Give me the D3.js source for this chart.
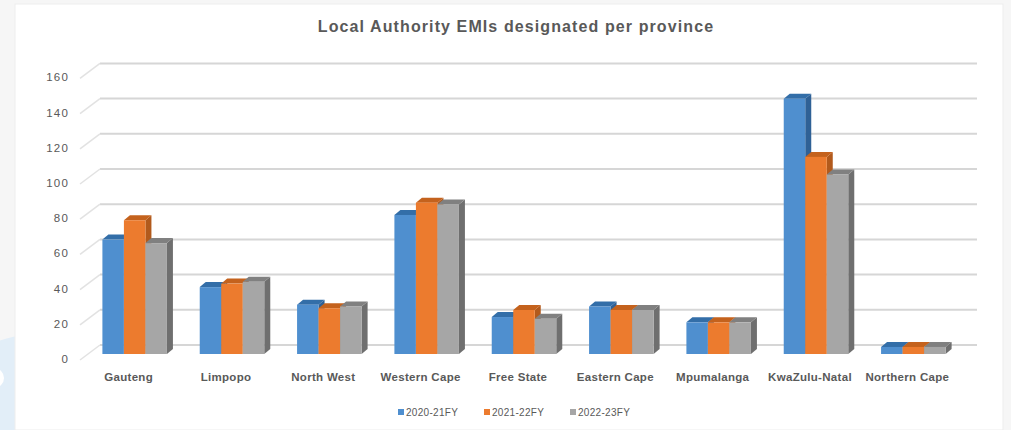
<!DOCTYPE html>
<html>
<head>
<meta charset="utf-8">
<script src="https://cdn.jsdelivr.net/npm/d3@7"></script>
<style>
  html, body { margin: 0; padding: 0; background: #f6f6f6; }
  svg { display: block; }
  text { font-family: "Liberation Sans", Arial, sans-serif; fill: #595959; }
</style>
</head>
<body>
<svg id="chart" width="1011" height="430"></svg>
<script>
// Provinces along the category axis
const categories = ["Gauteng", "Limpopo", "North West", "Western Cape", "Free State",
                    "Eastern Cape", "Mpumalanga", "KwaZulu-Natal", "Northern Cape"];
// Local Authority EMIs designated, per financial year
const fy2020_21 = [65, 38, 28, 79, 21, 27, 18, 145, 4];
const fy2021_22 = [76, 40, 26, 86, 25, 25, 18, 112, 4];
const fy2022_23 = [63, 41, 27, 85, 20, 25, 18, 102, 4];
const seriesNames = ["2020-21FY", "2021-22FY", "2022-23FY"];
const yTicks = [0, 20, 40, 60, 80, 100, 120, 140, 160];

const series = [fy2020_21, fy2021_22, fy2022_23];
const palette = [
  { front: "#4f8fcf", side: "#2f6196", top: "#336ea8" },
  { front: "#ec7b2e", side: "#b25a1c", top: "#c4621d" },
  { front: "#a6a6a6", side: "#6f6f6f", top: "#808080" }
];

const svg = d3.select("#chart");

// soft decorative shapes behind the chart panel
svg.append("circle").attr("cx", 30).attr("cy", 420).attr("r", 85).attr("fill", "#e2eef8");
svg.append("circle").attr("cx", -6).attr("cy", 378).attr("r", 10).attr("fill", "#ffffff");

// chart panel
svg.append("rect")
  .attr("x", 15).attr("y", 4).attr("width", 988).attr("height", 426)
  .attr("fill", "#ffffff").attr("stroke", "#ededed");

// 3D geometry: back wall plane, bar front plane offset toward the viewer
const wallLeft = 100, wallRight = 977;
const floorDx = -20, floorDy = 15;     // back wall -> front edge of floor
const barOffY = 9;                     // back wall -> bar front plane (vertical shift)
const depthX = 6, depthY = -5;         // bar depth

const y = d3.scaleLinear().domain([0, 160]).range([345, 63.4]);

// gridlines on the back wall plus their diagonals along the side wall
const grid = svg.append("g");
yTicks.forEach(t => {
  const yy = y(t);
  grid.append("line")
    .attr("x1", wallLeft).attr("x2", wallRight)
    .attr("y1", yy).attr("y2", yy)
    .attr("stroke", "#d6d6d6").attr("stroke-width", 2);
  grid.append("line")
    .attr("x1", wallLeft).attr("y1", yy)
    .attr("x2", wallLeft + floorDx).attr("y2", yy + floorDy)
    .attr("stroke", "#e2e2e2").attr("stroke-width", 1.5);
  grid.append("text")
    .attr("x", 69).attr("y", yy + 14).attr("dy", "0.35em")
    .attr("text-anchor", "end")
    .style("font-size", "11.5px")
    .style("letter-spacing", "1.2px")
    .text(t);
});

// category band along the bar front plane
const x0 = d3.scaleBand()
  .domain(categories)
  .range([86, 962])
  .paddingInner(0.337).paddingOuter(0.1685);
const x1 = d3.scaleBand().domain(d3.range(series.length)).range([0, x0.bandwidth()]);

const yFront = v => y(v) + barOffY;

const bars = svg.append("g");
categories.forEach((cat, ci) => {
  series.forEach((vals, si) => {
    const v = vals[ci];
    const xl = x0(cat) + x1(si);
    const w = x1.bandwidth();
    const yt = yFront(v);
    const yb = yFront(0);
    const c = palette[si];
    // right side face
    bars.append("path")
      .attr("d", `M${xl + w},${yt} L${xl + w + depthX},${yt + depthY} L${xl + w + depthX},${yb + depthY} L${xl + w},${yb} Z`)
      .attr("fill", c.side);
    // top face
    bars.append("path")
      .attr("d", `M${xl},${yt} L${xl + depthX},${yt + depthY} L${xl + w + depthX},${yt + depthY} L${xl + w},${yt} Z`)
      .attr("fill", c.top);
    // front face
    bars.append("rect")
      .attr("x", xl).attr("y", yt)
      .attr("width", w).attr("height", yb - yt)
      .attr("fill", c.front);
  });
});

// category labels at the front edge of the floor
svg.append("g").selectAll("text")
  .data(categories).join("text")
  .attr("x", d => x0(d) + x0.bandwidth() / 2 - 6)
  .attr("y", 377).attr("dy", "0.35em")
  .attr("text-anchor", "middle")
  .style("font-size", "11.5px").style("font-weight", "bold")
  .style("letter-spacing", "0.3px")
  .text(d => d);

// title
svg.append("text")
  .attr("x", 516).attr("y", 32)
  .attr("text-anchor", "middle")
  .style("font-size", "16px").style("font-weight", "bold")
  .style("letter-spacing", "1.1px")
  .text("Local Authority EMIs designated per province");

// legend
const legend = svg.append("g");
const legendX = d3.scalePoint().domain(seriesNames).range([398, 570]);
seriesNames.forEach((name, i) => {
  const lx = legendX(name);
  legend.append("rect")
    .attr("x", lx).attr("y", 409).attr("width", 6).attr("height", 6)
    .attr("fill", palette[i].front);
  legend.append("text")
    .attr("x", lx + 8).attr("y", 412).attr("dy", "0.35em")
    .style("font-size", "10px")
    .style("letter-spacing", "0.3px")
    .text(name);
});
</script>
</body>
</html>
